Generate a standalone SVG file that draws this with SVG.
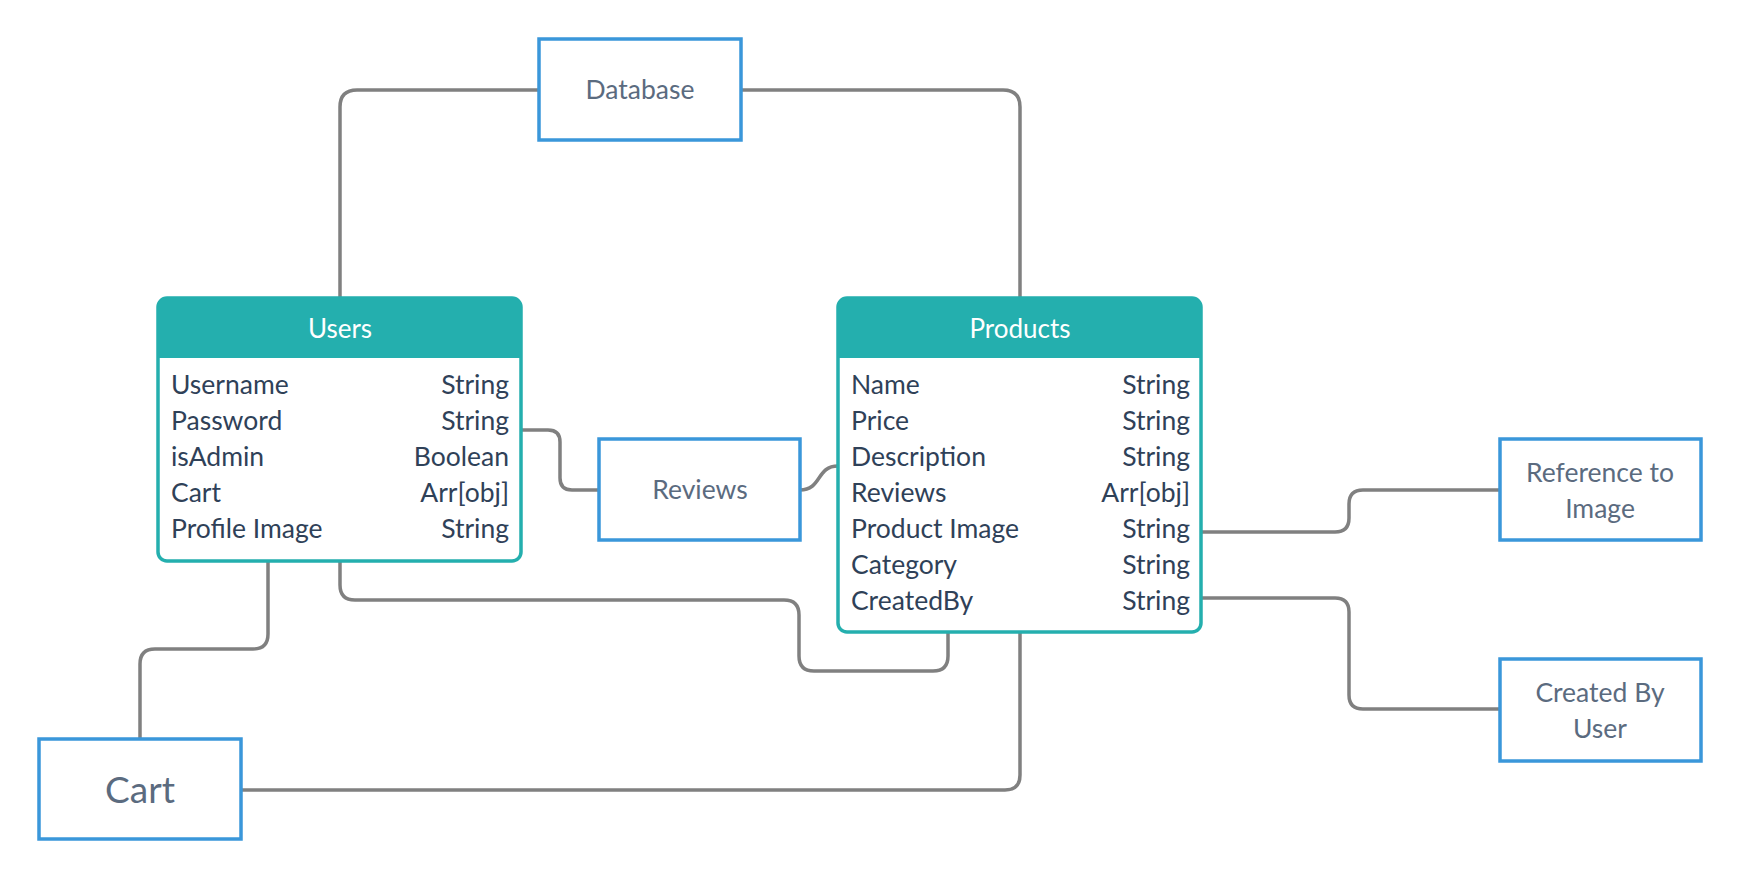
<svg xmlns="http://www.w3.org/2000/svg" width="1740" height="880" viewBox="0 0 1740 880">
<style>
.conn{fill:none;stroke:#808080;stroke-width:3.5;}
.box{fill:#ffffff;stroke:#3a97da;stroke-width:3.5;}
.tbl{fill:#ffffff;stroke:#24afae;stroke-width:3.5;}
.hdr{fill:#24afae;}
.lbl{font-family:Lato,"Liberation Sans",sans-serif;font-size:26.5px;fill:#5b6b7f;text-anchor:middle;}
.big{font-size:37px;}
.htx{font-family:Lato,"Liberation Sans",sans-serif;font-size:26px;fill:#ffffff;text-anchor:middle;}
.fld{font-family:Lato,"Liberation Sans",sans-serif;font-size:26.5px;fill:#2f4158;}
.typ{font-family:Lato,"Liberation Sans",sans-serif;font-size:26.5px;fill:#2f4158;text-anchor:end;}
</style>
<rect width="1740" height="880" fill="#ffffff"/>
<g id="connectors">
<path class="conn" d="M539,90 H357 Q340,90 340,107 V298"/>
<path class="conn" d="M741,90 H1003 Q1020,90 1020,107 V298"/>
<path class="conn" d="M521,430 H548 Q560,430 560,442 V478 Q560,490 572,490 H599"/>
<path class="conn" d="M800,490 C822,490 816,466 838,466"/>
<path class="conn" d="M340,561 V585 Q340,600 355,600 H784 Q799,600 799,615 V656 Q799,671 814,671 H933 Q948,671 948,656 V632"/>
<path class="conn" d="M268,561 V634 Q268,649 253,649 H155 Q140,649 140,664 V739"/>
<path class="conn" d="M241,790 H1005 Q1020,790 1020,775 V632"/>
<path class="conn" d="M1201,532 H1335 Q1349,532 1349,518 V504 Q1349,490 1363,490 H1500"/>
<path class="conn" d="M1201,598 H1335 Q1349,598 1349,612 V695 Q1349,709 1363,709 H1500"/>
</g>
<g id="database">
<rect class="box" x="539" y="39" width="202" height="101"/>
<text class="lbl" x="640" y="99">Database</text>
</g>
<g id="users">
<rect class="tbl" x="158" y="298" width="363" height="263" rx="9"/>
<path class="hdr" d="M158,358 V307 Q158,298 167,298 H512 Q521,298 521,307 V358 Z"/>
<text class="htx" x="340" y="338">Users</text>
<text class="fld" x="171" y="394">Username</text><text class="typ" x="509" y="394">String</text>
<text class="fld" x="171" y="430">Password</text><text class="typ" x="509" y="430">String</text>
<text class="fld" x="171" y="466">isAdmin</text><text class="typ" x="509" y="466">Boolean</text>
<text class="fld" x="171" y="502">Cart</text><text class="typ" x="509" y="502">Arr[obj]</text>
<text class="fld" x="171" y="538">Profile Image</text><text class="typ" x="509" y="538">String</text>
</g>
<g id="products">
<rect class="tbl" x="838" y="298" width="363" height="334" rx="9"/>
<path class="hdr" d="M838,358 V307 Q838,298 847,298 H1192 Q1201,298 1201,307 V358 Z"/>
<text class="htx" x="1020" y="338">Products</text>
<text class="fld" x="851" y="394">Name</text><text class="typ" x="1190" y="394">String</text>
<text class="fld" x="851" y="430">Price</text><text class="typ" x="1190" y="430">String</text>
<text class="fld" x="851" y="466">Description</text><text class="typ" x="1190" y="466">String</text>
<text class="fld" x="851" y="502">Reviews</text><text class="typ" x="1190" y="502">Arr[obj]</text>
<text class="fld" x="851" y="538">Product Image</text><text class="typ" x="1190" y="538">String</text>
<text class="fld" x="851" y="574">Category</text><text class="typ" x="1190" y="574">String</text>
<text class="fld" x="851" y="610">CreatedBy</text><text class="typ" x="1190" y="610">String</text>
</g>
<g id="reviews">
<rect class="box" x="599" y="439" width="201" height="101"/>
<text class="lbl" x="700" y="499">Reviews</text>
</g>
<g id="cart">
<rect class="box" x="39" y="739" width="202" height="100"/>
<text class="lbl big" x="140" y="803">Cart</text>
</g>
<g id="reference-to-image">
<rect class="box" x="1500" y="439" width="201" height="101"/>
<text class="lbl" x="1600" y="482">Reference to</text>
<text class="lbl" x="1600" y="518">Image</text>
</g>
<g id="created-by-user">
<rect class="box" x="1500" y="659" width="201" height="102"/>
<text class="lbl" x="1600" y="702">Created By</text>
<text class="lbl" x="1600" y="738">User</text>
</g>
</svg>
